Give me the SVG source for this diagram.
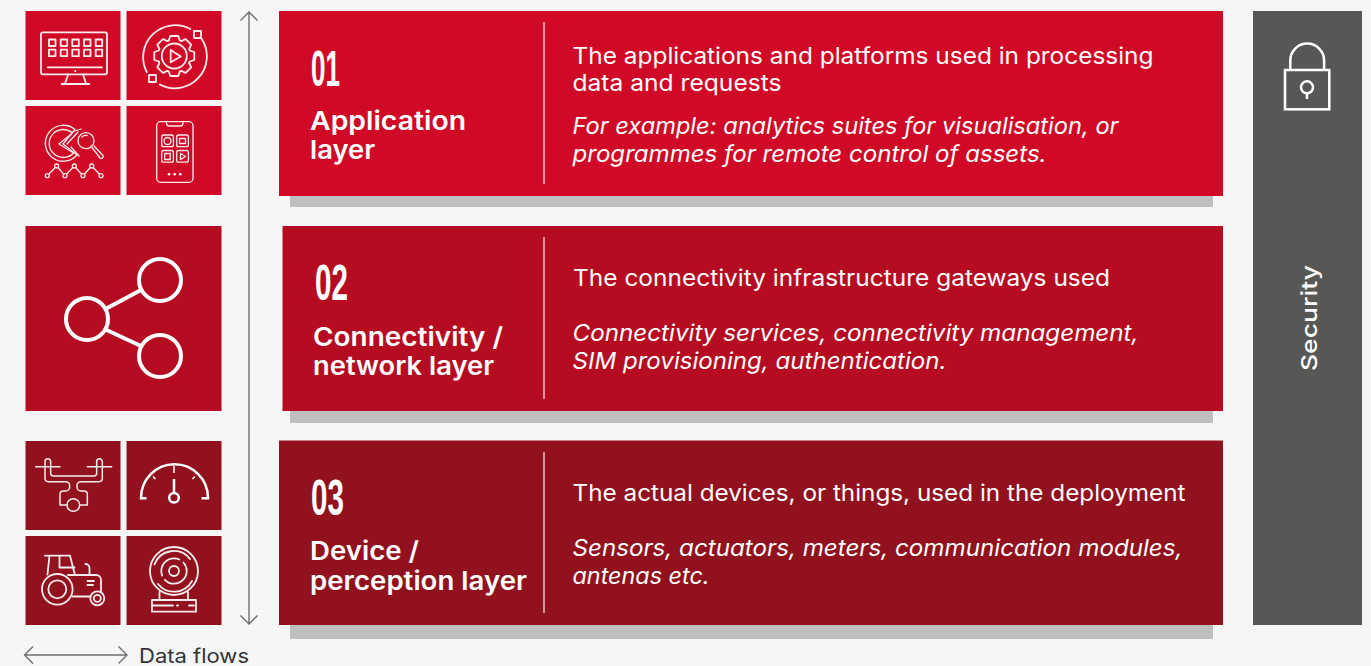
<svg xmlns="http://www.w3.org/2000/svg" width="1371" height="666" viewBox="0 0 1371 666">
<style>
text{font-family:Inter,"Open Sans","Liberation Sans",sans-serif;fill:#fff}
.t{font-size:26px;font-weight:600}
.b{font-size:22.5px;font-weight:400}
.i{font-size:22.5px;font-style:italic}
.n{font-family:"Liberation Sans Narrow","Liberation Sans",sans-serif;font-size:50px;font-weight:700}
.ic{fill:none;stroke:#fff;stroke-width:1.3;stroke-linecap:round;stroke-linejoin:round;opacity:.92}
.w{stroke-width:1.8}
.sh{fill:#bfbfbf}
.dv{stroke:#fff;stroke-opacity:.75;stroke-width:1.5}
.ar{fill:none;stroke:#6f6f6e;stroke-width:1.4}
.r1{fill:#d00a26}.r2{fill:#b50c22}.r3{fill:#91121e}
</style>
<defs>
<path id="tooth" d="M-5.500-15.500L-4-20H4L5.500-15.500A16.400 16.400 0 0 1 7.070-14.850"/>
</defs>
<rect width="1371" height="666" fill="#f6f6f6"/>

<g id="icon-monitor">
<rect class="r1" x="25.500" y="11" width="95" height="89"/>
<g class="ic w"><rect x="41" y="32.300" width="66" height="42" rx="2"/><path d="M47.700 67.300H102M68.300 74.300L65 83.500M83 74.300L86 83.500M61.700 84H89.300"/></g>
<g class="ic w"><rect x="49" y="39.500" width="6.500" height="6.500"/><rect x="60.700" y="39.500" width="6.500" height="6.500"/><rect x="72.300" y="39.500" width="6.500" height="6.500"/><rect x="84" y="39.500" width="6.500" height="6.500"/><rect x="95.700" y="39.500" width="6.500" height="6.500"/><rect x="49" y="49.700" width="6.500" height="6.500"/><rect x="60.700" y="49.700" width="6.500" height="6.500"/><rect x="72.300" y="49.700" width="6.500" height="6.500"/><rect x="84" y="49.700" width="6.500" height="6.500"/><rect x="95.700" y="49.700" width="6.500" height="6.500"/></g>
<circle cx="75.300" cy="71" r="1" fill="#fff"/>
</g>
<g id="icon-gear">
<rect class="r1" x="126.500" y="11" width="95" height="89"/>
<g class="ic w" transform="translate(174.300 56)">
<use href="#tooth"/><use href="#tooth" transform="rotate(45)"/><use href="#tooth" transform="rotate(90)"/><use href="#tooth" transform="rotate(135)"/><use href="#tooth" transform="rotate(180)"/><use href="#tooth" transform="rotate(225)"/><use href="#tooth" transform="rotate(270)"/><use href="#tooth" transform="rotate(315)"/>
<circle r="12.500"/><path d="M-3.600-6V6.300L6.500.5Z"/>
<path d="M16-27A32 32 0 0 0-27.500 16M-14.500 28.500A32 32 0 0 0 27.500-17"/>
<rect x="19.700" y="-25" width="7" height="7"/><rect x="-25.300" y="19" width="7" height="7"/>
</g>
</g>
<g id="icon-pie">
<rect class="r1" x="25.500" y="106" width="95" height="89"/>
<g class="ic">
<path d="M75 129.500A18 18 0 1 0 77 155L63 144Z"/><path d="M72.500 133A14 14 0 1 0 73.500 153L59 144Z"/>
<path d="M75 131L81 129M67 144L78 132M79 156L71 147"/>
<circle cx="86" cy="140.700" r="8"/><path d="M91 146L92 147.500L100 158a2 2 0 0 0 3-2.500L94 146"/><path d="M82 137A5 5 0 0 1 87 135.500"/>
<path d="M47.300 175.700L56.700 166L65 175.700L74.300 166L83 175.700L91.700 166L101 175.700"/>
<g fill="#d00a26"><circle cx="47.300" cy="175.700" r="2"/><circle cx="56.700" cy="166" r="2"/><circle cx="65" cy="175.700" r="2"/><circle cx="74.300" cy="166" r="2"/><circle cx="83" cy="175.700" r="2"/><circle cx="91.700" cy="166" r="2"/><circle cx="101" cy="175.700" r="2"/></g>
</g>
</g>
<g id="icon-phone">
<rect class="r1" x="126.500" y="106" width="95" height="89"/>
<g class="ic">
<rect x="156.700" y="121.700" width="36.300" height="60.600" rx="4"/><path d="M166.500 121.700V123a3 3 0 0 0 3 3H180a3 3 0 0 0 3-3V121.700"/>
<rect x="161.700" y="135" width="11.700" height="11.700" rx="2"/><rect x="176.700" y="135" width="11.700" height="11.700" rx="2"/><rect x="161.700" y="150.500" width="11.700" height="11.700" rx="2"/><rect x="176.700" y="150.500" width="11.700" height="11.700" rx="2"/>
<circle cx="167.500" cy="141" r="3.500"/><rect x="179.500" y="138.500" width="6" height="5"/><rect x="164.700" y="153.500" width="5.500" height="6"/><path d="M180.500 153.500V159.500L185.500 156.500Z"/>
</g>
<g fill="#fff"><circle cx="169" cy="174.300" r="1.300"/><circle cx="174.700" cy="174.300" r="1.300"/><circle cx="180.300" cy="174.300" r="1.300"/></g>
</g>
<g id="icon-share">
<rect class="r2" x="25.500" y="226" width="196" height="185"/>
<g fill="none" stroke="#fff" stroke-width="4"><circle cx="87" cy="319" r="21"/><circle cx="160" cy="280" r="21"/><circle cx="160" cy="356" r="21"/><path d="M105.500 309L141 290M105.500 329.500L141 346"/></g>
</g>
<g id="icon-drone">
<rect class="r3" x="25.500" y="441" width="95" height="89"/>
<g class="ic w" transform="translate(20 435) scale(.3333)">
<path stroke-width="4.500" d="M47 95H120M202 95H275"/>
<path stroke-width="4.500" d="M75 95V80a8.500 8.500 0 0 1 17 0V115a8 8 0 0 0 8 8H222a8 8 0 0 0 8-8V80a8.500 8.500 0 0 1 17 0V130a10 10 0 0 1-10 10H183a12 12 0 0 0-12 12V156a12 12 0 0 0 12 12H192a10 10 0 0 1 10 10V210H179M75 95V130a10 10 0 0 0 10 10H137a12 12 0 0 1 12 12V156a12 12 0 0 1-12 12H130a10 10 0 0 0-10 10V210H141"/>
<circle stroke-width="4.500" cx="160" cy="210" r="19"/>
</g>
</g>
<g id="icon-gauge">
<rect class="r3" x="126.500" y="441" width="95" height="89"/>
<g fill="none" stroke="#fff" stroke-width="2.500">
<path d="M146.500 498.300H141V497.700A33.500 33.500 0 0 1 208 497.700V498.300H201.500"/><path d="M174 466V473M153 476.500L155.500 479M195 476.500L192.500 479" stroke-width="1.500"/><path d="M174 479V492"/><circle cx="174" cy="497.700" r="4.800"/>
</g>
</g>
<g id="icon-tractor">
<rect class="r3" x="25.500" y="536" width="95" height="89"/>
<g class="ic w">
<circle cx="57.300" cy="589.300" r="15.300"/><circle cx="57.300" cy="589.300" r="9"/><circle cx="97.300" cy="598.300" r="7"/><circle cx="97.300" cy="598.300" r="3.500"/>
<path d="M45 555.700H70L75 575H68M49.500 555.700L47.500 574.500M59.500 556V567.500H74.500M75 575H96a5 5 0 0 1 5 5V592M72.500 596.500H90.500M85.500 564a4 4 0 0 1 4 4V575M87.500 581H94M87.500 585H93"/>
</g>
</g>
<g id="icon-camera">
<rect class="r3" x="126.500" y="536" width="95" height="89"/>
<g class="ic w">
<circle cx="174" cy="571" r="24"/><path d="M190 559A20.500 20.500 0 0 0 154.500 564.500M158 584A20.500 20.500 0 0 0 192 581"/><circle cx="174" cy="571" r="12.700" stroke-dasharray="30 5"/><circle cx="174" cy="571" r="5"/>
<path d="M159.500 592V600M188 592V600M152 600H196V611.700H152ZM152 605.500H173M177 605.500H178M189 605.500H194"/>
</g>
</g>

<g id="layer-1">
<rect class="sh" x="290" y="190" width="923" height="17"/>
<rect class="r1" x="279" y="11" width="944" height="185"/>
<line class="dv" x1="544" y1="22" x2="544" y2="184"/>
<text class="n" x="311" y="85.500" textLength="29" lengthAdjust="spacingAndGlyphs">01</text>
<text class="t" x="310" y="130" textLength="156" lengthAdjust="spacingAndGlyphs">Application</text>
<text class="t" x="310" y="159" textLength="65" lengthAdjust="spacingAndGlyphs">layer</text>
<text class="b" x="572.500" y="64" textLength="581" lengthAdjust="spacingAndGlyphs">The applications and platforms used in processing</text>
<text class="b" x="572.500" y="91" textLength="209" lengthAdjust="spacingAndGlyphs">data and requests</text>
<text class="i" x="572.500" y="134" textLength="546" lengthAdjust="spacingAndGlyphs">For example: analytics suites for visualisation, or</text>
<text class="i" x="572.500" y="162" textLength="474" lengthAdjust="spacingAndGlyphs">programmes for remote control of assets.</text>
</g>
<g id="layer-2">
<rect class="sh" x="290" y="405" width="923" height="18"/>
<rect class="r2" x="282.500" y="226" width="940.500" height="185"/>
<line class="dv" x1="544" y1="237" x2="544" y2="399"/>
<text class="n" x="315" y="300" textLength="33" lengthAdjust="spacingAndGlyphs">02</text>
<text class="t" x="313" y="346" textLength="190" lengthAdjust="spacingAndGlyphs">Connectivity /</text>
<text class="t" x="313" y="375" textLength="181" lengthAdjust="spacingAndGlyphs">network layer</text>
<text class="b" x="573" y="286" textLength="537" lengthAdjust="spacingAndGlyphs">The connectivity infrastructure gateways used</text>
<text class="i" x="572.500" y="341" textLength="566" lengthAdjust="spacingAndGlyphs">Connectivity services, connectivity management,</text>
<text class="i" x="572.500" y="369" textLength="374" lengthAdjust="spacingAndGlyphs">SIM provisioning, authentication.</text>
</g>
<g id="layer-3">
<rect class="sh" x="290" y="620" width="923" height="19"/>
<rect class="r3" x="279" y="440.500" width="944" height="184.500"/>
<line class="dv" x1="544" y1="452" x2="544" y2="613"/>
<text class="n" x="311" y="515" textLength="33" lengthAdjust="spacingAndGlyphs">03</text>
<text class="t" x="310" y="560" textLength="109" lengthAdjust="spacingAndGlyphs">Device /</text>
<text class="t" x="310" y="590" textLength="217" lengthAdjust="spacingAndGlyphs">perception layer</text>
<text class="b" x="572.500" y="501" textLength="613" lengthAdjust="spacingAndGlyphs">The actual devices, or things, used in the deployment</text>
<text class="i" x="572.500" y="556" textLength="610" lengthAdjust="spacingAndGlyphs">Sensors, actuators, meters, communication modules,</text>
<text class="i" x="572.500" y="584" textLength="137" lengthAdjust="spacingAndGlyphs">antenas etc.</text>
</g>
<g id="security">
<rect x="1253" y="11" width="109" height="614" fill="#575756"/>
<g fill="none" stroke="#fff" stroke-width="2.500">
<rect x="1285" y="70" width="44.300" height="39.300"/><path d="M1290.300 70V60.500a16.900 16.900 0 0 1 33.800 0V70"/><circle cx="1307" cy="87.300" r="6"/><path d="M1307 93.500V99"/>
</g>
<text x="1317" y="371" transform="rotate(-90 1317 371)" font-size="22" font-weight="500" textLength="106" lengthAdjust="spacingAndGlyphs">Security</text>
</g>
<g id="connectors">
<path class="ar" d="M249 12V624M240.500 20.500L249 12L257.500 20.500M240.500 615.500L249 624L257.500 615.500"/>
<path class="ar" d="M24.500 655H127M33 646.500L24.500 655L33 663.500M118.500 646.500L127 655L118.500 663.500"/>
</g>
<text id="data-flows" x="139" y="663" font-size="20" textLength="110" lengthAdjust="spacingAndGlyphs" style="fill:#333">Data flows</text>
</svg>
